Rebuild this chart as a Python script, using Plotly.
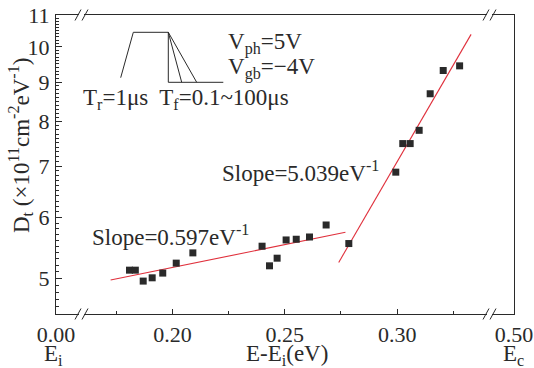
import plotly.graph_objects as go

# ---- data ----
x_pts = [0.1809, 0.1835, 0.1870, 0.1910, 0.1957, 0.2017, 0.2091, 0.2399, 0.2432,
         0.2466, 0.2506, 0.2551, 0.2610, 0.2684, 0.2785, 0.2994, 0.3025, 0.3058,
         0.3098, 0.3147, 0.3205, 0.3278]
y_pts = [5.125, 5.125, 4.960, 5.009, 5.080, 5.234, 5.397, 5.506, 5.192,
         5.312, 5.610, 5.622, 5.660, 5.867, 5.550, 6.872, 7.486, 7.486,
         7.789, 8.690, 9.316, 9.447]
fit_low_x = [0.1725, 0.2770]
fit_low_y = [4.975, 5.740]
fit_high_x = [0.2740, 0.3329]
fit_high_y = [5.245, 10.38]

x_tickvals = [0.1482, 0.20, 0.25, 0.30, 0.352]
x_ticktext = ["0.00", "0.20", "0.25", "0.30", "0.50"]
x_minor = [0.175, 0.225, 0.275, 0.325]
y_tickvals = [5, 6, 7, 8, 9, 10, 11]
y_minor = [v / 10 for v in range(45, 111) if v % 10 != 0]

# ---- layout geometry ----
W, H = 534, 368
L, R, T, B = 56, 20, 15, 54
PW, PH = W - L - R, H - T - B

def px(x):
    return (x - L) / PW

def py(y):
    return (H - B - y) / PH

FONT = "Times New Roman, Liberation Serif, Tinos, DejaVu Serif, serif"
BLACK = "#2a2a2a"
RED = "#e0303c"
XR = [0.1482, 0.352]
YR = [0.6527, 1.0414]

fig = go.Figure()
fig.add_trace(go.Scatter(x=fit_low_x, y=fit_low_y, mode="lines",
                         line=dict(color=RED, width=1.1), showlegend=False))
fig.add_trace(go.Scatter(x=fit_high_x, y=fit_high_y, mode="lines",
                         line=dict(color=RED, width=1.1), showlegend=False))
fig.add_trace(go.Scatter(x=x_pts, y=y_pts, mode="markers",
                         marker=dict(symbol="square", size=7, color=BLACK),
                         showlegend=False))
fig.add_trace(go.Scatter(x=[x_pts[0]], y=[y_pts[0]], xaxis="x2", yaxis="y2",
                         mode="markers", marker=dict(opacity=0), showlegend=False,
                         hoverinfo="skip"))

shapes = []
pulse = [((120.7, 77.7), (133.3, 32.3)), ((133.3, 32.3), (168.3, 32.3)),
         ((168.3, 32.3), (168.3, 82.3)), ((168.3, 32.3), (181.7, 82.3)),
         ((168.3, 32.3), (196.7, 82.3)), ((168.3, 82.3), (223.3, 82.3))]
for (a, b) in pulse:
    shapes.append(dict(type="line", xref="paper", yref="paper",
                       x0=px(a[0]), y0=py(a[1]), x1=px(b[0]), y1=py(b[1]),
                       line=dict(color=BLACK, width=1)))
for bx in (81.5, 489.5):
    for by in (15, 314):
        shapes.append(dict(type="rect", xref="paper", yref="paper",
                           x0=px(bx - 2.5), x1=px(bx + 2.5), y0=py(by - 1.5), y1=py(by + 1.5),
                           fillcolor="white", line=dict(width=0), layer="above"))
        for off in (-3.5, 3.5):
            cx = bx + off
            shapes.append(dict(type="line", xref="paper", yref="paper",
                               x0=px(cx - 3), y0=py(by + 5.5), x1=px(cx + 3), y1=py(by - 5.5),
                               line=dict(color=BLACK, width=1), layer="above"))

fs = 23
def sb(t):
    return "<sub>%s</sub>" % t

ann = []
def A(text, x, y, xanchor="left", size=fs, angle=0):
    ann.append(dict(text=text, xref="paper", yref="paper", x=px(x), y=py(y),
                    xanchor=xanchor, yanchor="middle", showarrow=False,
                    textangle=angle, font=dict(family=FONT, size=size, color=BLACK)))

A("Slope=5.039eV<sup>-1</sup>", 220, 171)
A("Slope=0.597eV<sup>-1</sup>", 90, 236)
A("V" + sb("ph") + "=5V", 226, 43)
A("V" + sb("gb") + "=\u22124V", 226, 68)
A("T" + sb("r") + "=1\u03bcs  T" + sb("f") + "=0.1~100\u03bcs", 81, 99)
A("E-E" + sb("i") + "(eV)", 287, 355, xanchor="center")
A("E" + sb("i"), 53, 355, xanchor="center")
A("E" + sb("c"), 513, 355, xanchor="center")
A("D" + sb("t") + " (\u00d710<sup>11</sup>cm<sup>-2</sup>eV<sup>-1</sup>)", 20, 146,
  xanchor="center", angle=-90)

fig.update_layout(
    width=W, height=H, margin=dict(l=L, r=R, t=T, b=B, autoexpand=False),
    paper_bgcolor="white", plot_bgcolor="white",
    font=dict(family=FONT, size=fs, color=BLACK),
    shapes=shapes, annotations=ann,
    xaxis=dict(range=XR, tickmode="array", tickvals=x_tickvals,
               ticktext=x_ticktext, ticks="inside", ticklen=5, tickwidth=1,
               tickcolor=BLACK, showline=True, linecolor=BLACK, linewidth=1.3,
               mirror=True, showgrid=False, zeroline=False, ticklabelstandoff=0,
               automargin=False,
               tickfont=dict(family=FONT, size=22, color=BLACK)),
    yaxis=dict(type="log", range=YR, tickmode="array",
               tickvals=y_tickvals, ticktext=[str(v) for v in y_tickvals],
               ticks="inside", ticklen=6, tickwidth=1, tickcolor=BLACK,
               showline=True, linecolor=BLACK, linewidth=1.3, mirror=True,
               showgrid=False, zeroline=False, ticklabelstandoff=1,
               automargin=False,
               tickfont=dict(family=FONT, size=22, color=BLACK)),
    xaxis2=dict(overlaying="x", range=XR, side="bottom", anchor="y2",
                tickmode="array", tickvals=x_minor, ticks="inside", ticklen=3,
                tickwidth=1, tickcolor=BLACK, showticklabels=False, automargin=False,
                showgrid=False, zeroline=False, showline=False),
    yaxis2=dict(overlaying="y", type="log", range=YR, side="left", anchor="x2",
                tickmode="array", tickvals=y_minor, ticks="inside", ticklen=3,
                tickwidth=1, tickcolor=BLACK, showticklabels=False, automargin=False,
                showgrid=False, zeroline=False, showline=False),
)

fig.write_html("out.html")
